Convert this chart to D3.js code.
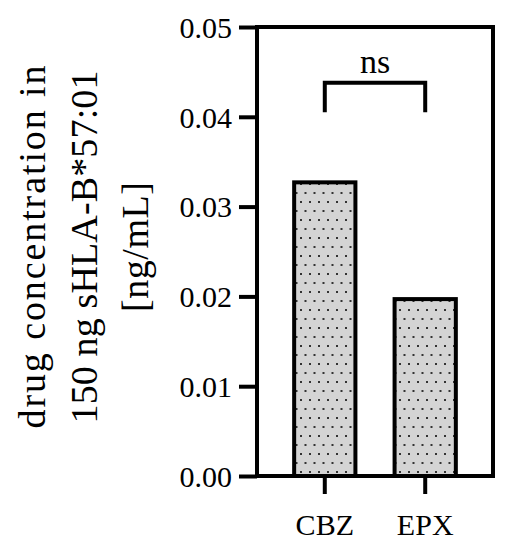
<!DOCTYPE html>
<html>
<head>
<meta charset="utf-8">
<script src="https://cdn.jsdelivr.net/npm/d3@7"></script>
<style>
  body { margin: 0; background: #fff; }
  text { font-family: "Liberation Serif", "Times New Roman", serif; fill: #000; }
</style>
</head>
<body>
<script>
let categories = ['CBZ', 'EPX']
let values = [0.0327, 0.0197]
let yTicks = [0, 0.01, 0.02, 0.03, 0.04, 0.05]
let yLabel = ['drug concentration in', '150 ng sHLA-B*57:01', '[ng/mL]']
let bracket = { from: 'CBZ', to: 'EPX', top: 0.0438, leg: 0.0405, label: 'ns' }

let width = 514, height = 550
let frame = { left: 257, right: 493, top: 27, bottom: 476 }

let svg = d3.select('body').append('svg')
  .attr('width', width)
  .attr('height', height)

let defs = svg.append('defs')
let pat = defs.append('pattern')
  .attr('id', 'dots')
  .attr('patternUnits', 'userSpaceOnUse')
  .attr('width', 9)
  .attr('height', 18)
pat.append('rect').attr('width', 9).attr('height', 18).attr('fill', '#d4d4d4')
pat.append('rect').attr('x', 3).attr('y', 3).attr('width', 2).attr('height', 2).attr('fill', '#333')
pat.append('rect').attr('x', 7.5).attr('y', 12).attr('width', 2).attr('height', 2).attr('fill', '#333')
pat.append('rect').attr('x', -1.5).attr('y', 12).attr('width', 2).attr('height', 2).attr('fill', '#333')

let x = d3.scaleBand()
  .domain(categories)
  .range([frame.left, frame.right])
  .paddingInner(0.39)
  .paddingOuter(0.37)

let y = d3.scaleLinear()
  .domain([0, 0.05])
  .range([frame.bottom, frame.top])

// bars
svg.append('g')
  .selectAll('rect')
  .data(categories)
  .enter().append('rect')
    .attr('x', (d) => x(d))
    .attr('width', x.bandwidth())
    .attr('y', (d, i) => y(values[i]))
    .attr('height', (d, i) => y(0) - y(values[i]))
    .attr('fill', 'url(#dots)')
    .attr('stroke', '#000')
    .attr('stroke-width', 4)

// frame
svg.append('rect')
  .attr('x', frame.left)
  .attr('y', frame.top)
  .attr('width', frame.right - frame.left)
  .attr('height', frame.bottom - frame.top)
  .attr('fill', 'none')
  .attr('stroke', '#000')
  .attr('stroke-width', 4)

let axisY = svg.append('g')
  .attr('transform', 'translate(' + frame.left + ',0)')
  .call(d3.axisLeft(y)
    .tickValues(yTicks)
    .tickFormat(d3.format('.2f'))
    .tickSize(18)
    .tickSizeOuter(0)
    .tickPadding(7))
axisY.select('.domain').remove()
axisY.selectAll('line').attr('stroke', '#000').attr('stroke-width', 4)
axisY.selectAll('text')
  .attr('font-family', '"Liberation Serif", serif')
  .attr('font-size', 30)
  .attr('fill', '#000')
  .attr('dy', '0.34em')

let axisX = svg.append('g')
  .attr('transform', 'translate(0,' + frame.bottom + ')')
  .call(d3.axisBottom(x)
    .tickSize(18)
    .tickSizeOuter(0)
    .tickPadding(20))
axisX.select('.domain').remove()
axisX.selectAll('line').attr('stroke', '#000').attr('stroke-width', 4)
axisX.selectAll('text')
  .attr('font-family', '"Liberation Serif", serif')
  .attr('font-size', 30)
  .attr('fill', '#000')

// significance bracket
let bx0 = x(bracket.from) + x.bandwidth() / 2
let bx1 = x(bracket.to) + x.bandwidth() / 2
svg.append('path')
  .attr('d', d3.line()([[bx0, y(bracket.leg)], [bx0, y(bracket.top)], [bx1, y(bracket.top)], [bx1, y(bracket.leg)]]))
  .attr('fill', 'none')
  .attr('stroke', '#000')
  .attr('stroke-width', 4)
  .attr('stroke-linejoin', 'miter')
svg.append('text')
  .attr('x', (bx0 + bx1) / 2)
  .attr('y', y(bracket.top) - 10)
  .attr('text-anchor', 'middle')
  .attr('font-size', 34)
  .text(bracket.label)

// y label
let labelLengths = [363, 353, 130]
let label = svg.append('g')
  .attr('transform', 'translate(45,247) rotate(-90)')
label.selectAll('text')
  .data(yLabel)
  .enter().append('text')
    .attr('x', 0)
    .attr('y', (d, i) => i * 51.5)
    .attr('text-anchor', 'middle')
    .attr('font-size', 38)
    .attr('textLength', (d, i) => labelLengths[i])
    .attr('lengthAdjust', 'spacing')
    .text((d) => d)
</script>
</body>
</html>
